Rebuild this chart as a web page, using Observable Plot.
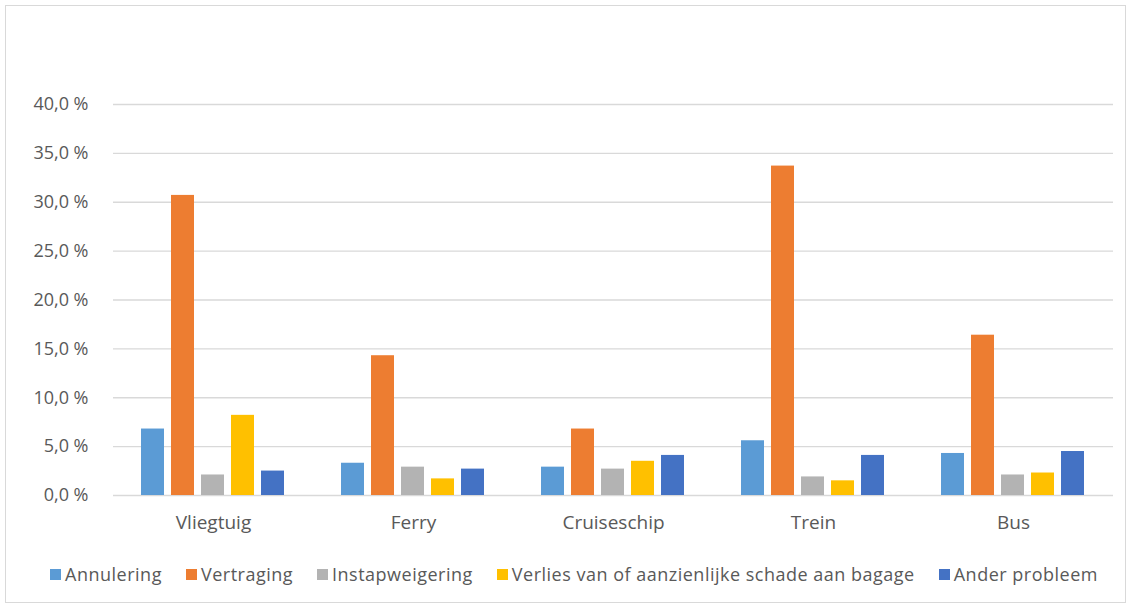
<!DOCTYPE html>
<html>
<head>
<meta charset="utf-8">
<script src="https://cdn.jsdelivr.net/npm/d3@7"></script>
<script src="https://cdn.jsdelivr.net/npm/@observablehq/plot@0.6"></script>
<style>
  html, body { margin: 0; padding: 0; background: #fff; }
  #wrap { position: relative; width: 1132px; height: 609px; font-family: "Open Sans", sans-serif; }
  #frame { position: absolute; left: 5px; top: 5px; width: 1121px; height: 598px; border: 1px solid #d9d9d9; box-sizing: border-box; pointer-events: none; }
  #chart { position: absolute; left: 0; top: 0; }
  #legend { position: absolute; left: 8px; top: 562px; width: 1132px; display: flex; justify-content: center; gap: 24px; color: #595959; font-size: 18px; letter-spacing: 0.5px; }
  .item { display: flex; align-items: center; gap: 4px; }
  .sw { width: 11px; height: 11px; display: inline-block; }
</style>
</head>
<body>
<div id="wrap">
  <div id="chart"></div>
  <div id="legend"></div>
  <div id="frame"></div>
</div>
<script>
const categories = ["Vliegtuig", "Ferry", "Cruiseschip", "Trein", "Bus"];
const series = ["Annulering", "Vertraging", "Instapweigering", "Verlies van of aanzienlijke schade aan bagage", "Ander probleem"];
const colors = ["#5B9BD5", "#ED7D31", "#B3B3B3", "#FFC000", "#4472C4"];
const annulering      = [6.8, 3.3, 2.9, 5.6, 4.3];
const vertraging      = [30.7, 14.3, 6.8, 33.7, 16.4];
const instapweigering = [2.1, 2.9, 2.7, 1.9, 2.1];
const verlies         = [8.2, 1.7, 3.5, 1.5, 2.3];
const anderProbleem   = [2.5, 2.7, 4.1, 4.1, 4.5];
const yTicks = [0, 5, 10, 15, 20, 25, 30, 35, 40];

const seriesValues = [annulering, vertraging, instapweigering, verlies, anderProbleem];
const data = [];
categories.forEach((c, i) => {
  series.forEach((s, j) => data.push({category: c, series: s, value: seriesValues[j][i]}));
});

const fmt = d => d.toFixed(1).replace(".", ",") + " %";

const chart = Plot.plot({
  width: 1132,
  height: 545,
  marginTop: 104,
  marginBottom: 50,
  marginLeft: 111,
  marginRight: 18,
  style: {fontFamily: "'Open Sans', sans-serif", color: "#595959", background: "transparent"},
  fx: {domain: categories, padding: 0, label: null},
  x: {domain: series, paddingInner: 0.226, paddingOuter: 0.85, axis: null},
  y: {domain: [0, 40], label: null},
  color: {domain: series, range: colors},
  marks: [
    Plot.ruleY(yTicks, {stroke: "#d9d9d9", strokeWidth: 1.3}),
    Plot.barY(data, {fx: "category", x: "series", y: "value", fill: "series"}),
    Plot.axisY({ticks: yTicks, tickFormat: fmt, tickSize: 0, tickPadding: 25, fontSize: 18, label: null, fill: "#595959", letterSpacing: "0.8px"}),
    Plot.axisFx({anchor: "bottom", tickSize: 0, tickPadding: 20, fontSize: 19, label: null, fill: "#595959", letterSpacing: "1px"})
  ]
});
document.getElementById("chart").appendChild(chart);

const legend = document.getElementById("legend");
series.forEach((s, i) => {
  const item = document.createElement("div");
  item.className = "item";
  const sw = document.createElement("span");
  sw.className = "sw";
  sw.style.background = colors[i];
  const t = document.createElement("span");
  t.textContent = s;
  item.appendChild(sw);
  item.appendChild(t);
  legend.appendChild(item);
});
</script>
</body>
</html>
